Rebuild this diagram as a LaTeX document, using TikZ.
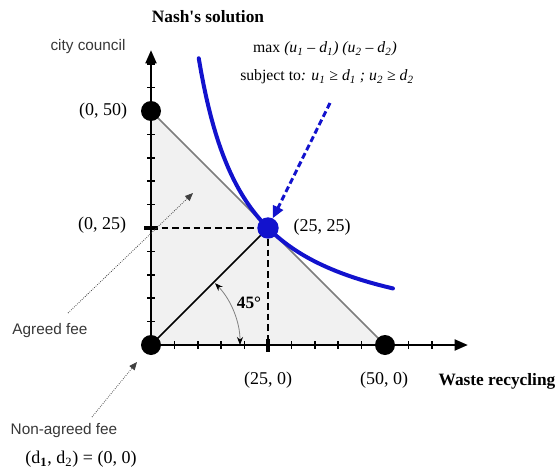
\documentclass[tikz,border=0pt]{standalone}
\usepackage{fontspec}
\setmainfont{Liberation Serif}
\setsansfont{Liberation Sans}
\usetikzlibrary{arrows.meta}
\definecolor{nashblue}{RGB}{18,18,205}
\definecolor{fillgray}{RGB}{241,241,241}
\definecolor{edgegray}{RGB}{125,125,125}
\definecolor{labelgray}{RGB}{55,55,55}
\begin{document}
\begin{tikzpicture}[x=0.75pt,y=-0.75pt,
  axis/.style={line width=2.1pt,-{Triangle[length=10pt,width=8pt]}},
  tick/.style={line width=1.1pt},
  bigtick/.style={line width=2.4pt},
  dot/.style={circle,fill=black,inner sep=0pt,minimum size=15pt},
  bluedot/.style={circle,fill=nashblue,inner sep=0pt,minimum size=16pt},
  guide/.style={line width=1.5pt,dash pattern=on 5pt off 3pt},
  serif/.style={font=\fontsize{13.5}{15}\selectfont},
  formula/.style={font=\fontsize{11.8}{14}\selectfont},
  boldlbl/.style={font=\fontsize{13}{15}\selectfont\bfseries},
  sanslbl/.style={font=\fontsize{11.5}{13}\selectfont\sffamily,text=labelgray},
  note/.style={line width=0.6pt,densely dotted,draw=black!75,-{Triangle[length=6pt,width=5pt]}},
]
\useasboundingbox (0,0) rectangle (558,468);
% key points
\coordinate (O) at (151,345);
\coordinate (X) at (468,345);
\coordinate (Y) at (151,50);
\coordinate (A) at (151,111);
\coordinate (B) at (385,345);
\coordinate (N) at (268,228);
\coordinate (Ny) at (151,228);
\coordinate (Nx) at (268,345);
% feasible set
\fill[fillgray] (O) -- (A) -- (B) -- cycle;
\draw[edgegray,line width=1.1pt] (A) -- (B);
% guides
\draw[guide] (Ny) -- (N) -- (Nx);
\draw[line width=1.1pt] (O) -- (N);
% axes
\draw[axis] (O) -- (X);
\draw[axis] (O) -- (Y);
\foreach \i in {1,...,12} \draw[tick] ({151+23.4*\i},341) -- ++(0,8);
\foreach \i in {1,...,12} \draw[tick] (147,{345-23.4*\i}) -- ++(8,0);
\draw[bigtick] (268,339) -- (268,352);
\draw[bigtick] (144,228) -- (158,228);
% angle
\draw[gray,line width=0.6pt,{Stealth[black,length=6pt,width=4.5pt]}-{Stealth[black,length=6pt,width=4.5pt]}]
  (240,345) arc[start angle=0,end angle=44,radius=66.75pt];
\node[boldlbl] (ang) at (249,303) {45°};
% indifference curve
\draw[nashblue,line width=3pt,line cap=round] plot[domain=10.2:51.7,samples=80,variable=\u] ({151+4.68*\u},{345-2925/\u});
% dots
\node[dot] (d0) at (O) {};
\node[dot] (d50y) at (A) {};
\node[dot] (d50x) at (B) {};
\node[bluedot] (dN) at (N) {};
% blue dashed arrow
\coordinate (P) at (330,103);
\draw[nashblue,line width=2.2pt,dash pattern=on 4.5pt off 2.5pt,-{Triangle[length=9pt,width=8pt]}] (P) -- (dN);
% texts
\node[boldlbl] (title) at (208,17) {Nash\textquotesingle s solution};
\node[sanslbl] (cc) at (88,47) {city council};
\node[formula] (maxl) at (325,49) {max \textit{(u\textsubscript{1} – d\textsubscript{1}) (u\textsubscript{2} – d\textsubscript{2})}};
\node[formula] (subj) at (327,77) {subject to\textit{: u\textsubscript{1} ≥ d\textsubscript{1} ; u\textsubscript{2} ≥ d\textsubscript{2}}};
\node[serif] (l050) at (103,111) {(0, 50)};
\node[serif] (l025) at (102,225) {(0, 25)};
\node[serif] (l2525) at (322,227) {(25, 25)};
\node[serif] (l250) at (268,380) {(25, 0)};
\node[serif] (l500) at (384,380) {(50, 0)};
\node[boldlbl] (wr) at (497,381) {Waste recycling};
\node[sanslbl] (agreed) at (50,331) {Agreed fee};
\node[sanslbl] (nonagreed) at (64,431) {Non-agreed fee};
\node[serif] (dd) at (81,459) {(d\textsubscript{\textbf{1}}, d\textsubscript{2}) = (0, 0)};
% annotation arrows
\coordinate (a1) at (68,313);
\coordinate (a2) at (193,193);
\coordinate (b1) at (92,417);
\coordinate (b2) at (137,362);
\draw[note] (a1) -- (a2);
\draw[note] (b1) -- (b2);
\end{tikzpicture}
\end{document}
